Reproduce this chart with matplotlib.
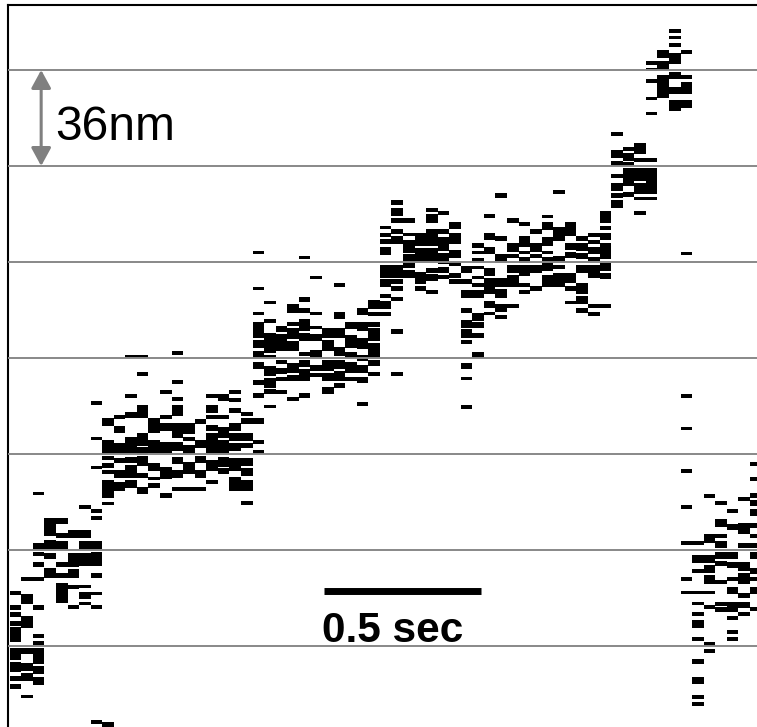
import matplotlib
matplotlib.use("Agg")
import matplotlib.pyplot as plt

# Kymograph of a stepping motor: for every video frame, the position ranges (nm)
# where the probe was detected. Each entry is (low, high) in nm.
frames_00_09 = [
    [(19.5, 20.6), (13.9, 15.4), (11.3, 12.8), (7.9, 9.4), (1.9, 7.1), (-4.9, -0.8), (-9.4, -6.0), (-12.8, -11.3), (-15.8, -14.3)],
    [(24.8, 25.9), (16.1, 19.5), (7.1, 11.3), (-2.6, -0.8), (-9.0, -6.4), (-12.8, -10.1), (-19.1, -18.4)],
    [(57.0, 57.8), (36.8, 38.6), (34.1, 35.3), (30.0, 31.5), (24.8, 25.9), (13.9, 15.4), (3.4, 4.5), (0.8, 1.9), (-6.4, -0.8), (-10.1, -7.5), (-14.3, -11.6)],
    [(41.6, 48.0), (36.8, 39.8), (33.0, 34.9), (25.9, 29.3)],
    [(46.1, 48.0), (40.9, 42.4), (36.8, 39.4), (30.0, 31.5), (25.9, 27.4), (16.5, 23.6)],
    [(40.9, 43.5), (30.0, 34.9), (25.9, 28.9), (21.8, 22.9), (14.3, 15.4)],
    [(51.8, 52.9), (40.9, 43.5), (36.8, 39.4), (30.4, 34.9), (22.1, 22.9), (18.0, 20.3), (15.8, 16.5)],
    [(90.8, 91.9), (77.6, 78.4), (66.8, 67.5), (50.3, 51.4), (47.6, 48.8), (36.8, 39.4), (30.4, 35.3), (25.9, 27.4), (19.5, 20.3), (14.3, 15.4), (-28.9, -27.8)],
    [(82.9, 85.5), (72.4, 77.3), (70.1, 71.3), (67.1, 68.6), (64.9, 66.0), (55.9, 62.3), (53.3, 54.0), (-30.4, -28.5)],
    [(85.5, 86.6), (80.3, 82.5), (72.4, 76.1), (69.0, 70.5), (63.4, 66.0), (58.5, 61.5)],
]

frames_10_19 = [
    [(108.4, 109.1), (93.4, 94.5), (85.9, 87.8), (72.4, 78.4), (69.0, 70.9), (63.4, 67.9), (59.6, 62.3)],
    [(108.4, 109.1), (101.6, 102.8), (85.9, 90.4), (75.4, 79.9), (72.0, 74.6), (67.9, 71.3), (63.4, 64.9), (57.4, 59.6)],
    [(80.3, 85.5), (72.8, 77.3), (66.0, 68.6), (62.6, 63.4), (59.6, 61.1)],
    [(94.9, 96.0), (85.5, 86.6), (81.0, 83.6), (72.8, 76.5), (63.0, 67.1), (55.9, 57.4)],
    [(109.5, 110.6), (98.6, 99.8), (92.3, 93.4), (86.6, 90.4), (78.4, 83.6), (73.5, 76.5), (68.6, 70.9), (63.4, 66.0), (58.5, 59.6)],
    [(79.9, 83.6), (77.3, 78.4), (72.4, 75.4), (64.9, 69.0), (58.5, 59.6)],
    [(83.6, 85.1), (74.6, 77.3), (69.0, 71.3), (63.4, 66.0), (58.5, 59.6)],
    [(93.4, 94.5), (87.8, 90.4), (85.5, 86.6), (81.0, 82.9), (72.8, 79.9), (66.0, 69.8), (61.1, 62.3)],
    [(92.3, 94.5), (85.5, 86.6), (78.4, 82.1), (72.8, 77.3), (67.5, 70.9), (64.9, 66.8)],
    [(94.9, 96.0), (91.9, 93.0), (87.8, 89.3), (81.0, 83.6), (77.3, 79.9), (73.5, 76.1), (66.0, 70.5), (58.5, 63.4)],
]

frames_20_29 = [
    [(86.6, 87.8), (83.6, 85.5), (77.3, 79.9), (74.6, 76.1), (67.9, 70.5), (64.1, 66.8), (58.5, 62.3), (53.3, 54.4)],
    [(147.4, 148.1), (133.9, 134.6), (124.5, 125.3), (115.9, 121.5), (112.1, 114.8), (108.4, 110.6), (104.3, 106.5), (98.3, 99.8), (93.4, 94.9), (83.6, 85.5), (76.1, 77.3), (72.4, 73.5)],
    [(128.6, 129.4), (121.5, 122.6), (110.3, 117.4), (108.0, 109.1), (101.6, 105.0), (97.1, 100.5), (94.9, 96.4), (89.6, 90.4)],
    [(118.1, 120.0), (111.0, 117.0), (106.1, 107.3), (102.4, 104.3), (99.8, 100.9), (94.9, 96.0)],
    [(125.3, 128.3), (120.4, 121.5), (115.5, 119.3), (111.0, 114.4), (102.8, 106.1), (99.8, 101.6), (92.3, 93.4)],
    [(145.5, 146.3), (129.4, 130.9), (125.3, 126.8), (118.5, 122.6), (114.8, 117.4), (109.1, 110.3), (105.0, 107.3), (99.8, 103.9), (93.4, 94.9)],
    [(138.0, 138.8), (124.5, 125.3), (119.3, 120.0), (114.8, 117.0), (108.4, 111.0), (103.5, 105.4), (101.3, 102.4)],
    [(115.9, 119.3), (111.0, 114.8), (103.5, 107.3), (99.8, 102.4), (94.9, 97.1)],
    [(135.0, 136.1), (123.0, 125.3), (115.9, 119.3), (109.1, 112.1), (104.3, 107.3), (99.8, 103.1), (97.1, 98.6)],
    [(119.3, 121.5), (112.1, 116.6), (108.4, 110.3), (102.8, 106.5), (99.8, 100.9)],
]

frames_30_39 = [
    [(124.5, 126.8), (118.5, 121.5), (111.8, 115.5), (107.3, 109.1), (102.8, 105.4), (99.0, 100.9), (90.4, 91.5)],
    [(126.8, 129.8), (124.1, 125.3), (120.0, 121.5), (114.8, 119.3), (108.4, 113.6), (105.4, 107.3), (101.6, 102.8)],
    [(156.8, 157.5), (153.8, 154.9), (151.1, 152.6), (147.0, 149.6), (138.4, 142.9), (135.0, 137.6), (130.9, 132.0), (126.8, 129.4), (124.1, 125.3)],
    [(165.8, 167.3), (161.6, 164.3), (159.0, 160.5), (154.9, 156.4), (151.1, 153.8), (138.4, 142.9), (136.1, 137.6), (133.5, 135.0), (129.8, 130.9), (117.4, 118.9), (101.6, 102.8)],
    [(159.0, 160.5), (154.1, 154.9), (147.8, 152.3), (142.1, 147.0), (138.4, 141.0)],
    [(150.4, 154.9), (144.0, 149.3), (136.1, 140.3), (133.5, 135.0)],
    [(163.1, 164.3), (159.0, 162.0), (150.4, 156.4), (144.0, 149.3), (140.3, 141.8), (137.3, 139.5), (132.4, 133.5)],
    [(162.0, 163.1), (154.9, 156.4), (148.5, 153.4), (143.6, 147.4), (140.3, 142.1), (138.0, 139.1)],
    [(156.8, 159.0), (151.1, 154.9), (145.9, 148.5), (142.9, 144.0), (138.4, 139.9), (136.1, 137.6)],
    [(140.3, 142.5), (136.1, 137.6), (130.9, 133.5), (125.3, 126.8), (119.6, 122.3), (115.9, 118.9), (113.6, 114.8), (104.3, 106.1), (100.1, 100.9), (89.3, 90.4)],
]

frames_40_49 = [
    [(149.6, 151.1), (147.4, 148.1), (144.0, 145.5), (141.8, 142.5), (138.0, 138.8), (135.0, 136.1), (130.9, 133.5), (122.3, 124.9), (119.6, 121.5), (115.9, 117.4), (108.4, 110.3)],
    [(160.9, 162.0), (152.6, 154.9), (147.4, 149.6), (139.1, 141.8), (132.4, 138.0), (127.1, 129.4), (124.5, 125.3)],
    [(168.4, 169.9), (152.3, 153.8), (144.0, 147.0), (135.0, 138.0), (130.9, 133.9), (125.6, 128.3), (123.0, 124.1)],
    [(159.0, 160.5), (148.1, 151.1), (145.9, 147.0), (140.3, 142.9), (136.5, 139.1), (135.0, 136.1), (127.1, 128.3)],
    [(157.9, 159.0), (150.0, 153.8), (147.4, 148.1), (144.0, 145.9), (139.1, 142.9), (135.0, 136.1), (132.4, 133.5)],
    [(154.9, 156.4), (148.1, 151.1), (145.9, 147.0), (140.3, 142.9), (133.5, 135.0)],
    [(160.9, 161.6), (156.4, 159.0), (150.4, 153.4), (147.4, 148.1), (141.0, 145.9), (135.0, 139.1)],
    [(169.9, 171.0), (152.3, 157.1), (144.0, 146.3), (141.8, 142.9), (135.0, 139.9)],
    [(154.1, 159.0), (148.9, 151.1), (145.9, 147.8), (136.5, 139.9), (133.5, 135.0), (128.6, 129.4)],
    [(152.3, 153.8), (148.5, 151.1), (145.5, 147.4), (140.3, 142.9), (132.4, 136.1), (128.6, 131.3), (125.3, 126.8)],
]

frames_50_59 = [
    [(153.8, 154.9), (151.1, 152.3), (147.4, 149.6), (144.8, 145.9), (140.3, 142.9), (138.4, 139.9), (127.1, 128.3), (124.1, 125.3)],
    [(159.0, 163.1), (156.4, 157.5), (152.6, 154.9), (145.5, 151.1), (141.0, 143.6), (138.0, 139.9), (127.1, 128.3)],
    [(191.6, 192.8), (183.4, 186.0), (180.4, 181.9), (175.9, 177.0), (171.0, 173.6), (168.4, 169.9), (164.6, 167.3)],
    [(186.0, 187.1), (182.3, 184.9), (180.4, 181.5), (172.9, 179.3), (168.8, 170.3)],
    [(184.9, 188.6), (181.9, 183.0), (174.8, 179.3), (169.9, 173.6), (167.6, 168.4), (162.0, 163.1)],
    [(218.3, 219.4), (216.0, 216.8), (211.5, 212.6), (205.1, 205.9), (199.5, 200.3), (181.9, 183.0), (169.9, 179.3), (167.6, 168.4)],
    [(220.9, 223.5), (216.4, 219.4), (205.9, 214.1)],
    [(230.3, 231.4), (228.0, 228.8), (225.0, 226.1), (218.6, 222.4), (213.0, 215.3), (207.4, 209.6), (201.0, 204.8)],
    [(222.4, 223.5), (213.0, 214.1), (207.4, 211.5), (202.1, 204.8), (147.0, 147.8), (93.4, 94.5), (81.4, 82.1), (65.3, 66.4), (51.8, 52.9), (38.3, 39.4), (24.8, 25.9), (19.9, 20.6)],
    [(38.3, 39.4), (31.5, 34.1), (27.8, 28.9), (19.9, 20.6), (15.8, 16.5), (11.6, 12.8), (7.1, 9.8), (2.3, 3.4), (-6.4, -4.9), (-13.9, -11.6), (-19.5, -18.4), (-22.1, -21.0)],
]

frames_60_64 = [
    [(55.9, 57.0), (39.0, 42.0), (31.5, 34.1), (27.8, 30.4), (23.6, 26.6), (19.9, 20.6), (14.3, 15.4), (0.4, 1.5), (-2.3, -1.1)],
    [(53.3, 54.4), (45.0, 47.6), (40.9, 42.0), (37.1, 39.4), (33.0, 35.3), (30.4, 31.9), (23.6, 24.8), (15.4, 16.5), (13.1, 14.6)],
    [(50.3, 51.4), (43.9, 45.8), (33.0, 35.3), (29.6, 31.5), (24.8, 25.9), (19.9, 22.1), (13.1, 16.5), (10.1, 11.3), (4.9, 6.0), (2.3, 3.4)],
    [(54.8, 55.9), (42.4, 46.1), (37.1, 38.6), (28.5, 31.5), (23.6, 27.4), (18.4, 19.9), (14.6, 16.5), (11.6, 12.8)],
    [(67.9, 69.0), (62.3, 63.4), (55.9, 57.4), (52.9, 54.8), (49.1, 51.4), (44.6, 46.1), (40.9, 42.0), (37.1, 38.6), (33.0, 35.3), (27.4, 29.3), (24.8, 25.9), (19.9, 22.1), (13.5, 14.6)],
]

frame_dt = 0.5 / 13.57          # seconds per video frame
pixel_row_nm = 0.375            # height of one detector row
step_size_nm = 36               # reference step spacing
grid_levels_nm = [0, 36, 72, 108, 144, 180, 216]
scale_bar_sec = 0.5
scale_bar_start = 1.0

all_frames = (frames_00_09 + frames_10_19 + frames_20_29 + frames_30_39
              + frames_40_49 + frames_50_59 + frames_60_64)

W, H = 757, 727
fig = plt.figure(figsize=(W / 100, H / 100), dpi=100)
ax = fig.add_axes([8.2 / W, 0, 1 - 8.2 / W, 1 - 5.3 / H])

xs, bottoms, heights = [], [], []
for i, runs in enumerate(all_frames):
    for lo, hi in runs:
        xs.append(i * frame_dt)
        # each run covers its last detector row as well
        bottoms.append(lo - pixel_row_nm)
        heights.append(hi - lo + pixel_row_nm)
ax.bar(xs, heights, width=frame_dt, bottom=bottoms, align="edge",
       color="black", linewidth=0, antialiased=False, zorder=2)

for g in grid_levels_nm:
    ax.axhline(g, color="#888888", lw=1.4, zorder=3)

# step-size marker
arrow_x = 2.72 * frame_dt
ax.annotate("", xy=(arrow_x, grid_levels_nm[6]), xytext=(arrow_x, grid_levels_nm[5]),
            arrowprops=dict(arrowstyle="<|-|>,head_length=1.1,head_width=0.6",
                            mutation_scale=10, color="#808080", lw=2.2,
                            shrinkA=0, shrinkB=0), zorder=4)
ax.text(3.93 * frame_dt, 189.8, f"{step_size_nm}nm", fontsize=34.5,
        family="Liberation Sans", ha="left", va="baseline", zorder=5)

# time scale bar
ax.plot([scale_bar_start, scale_bar_start + scale_bar_sec], [20.6, 20.6],
        color="black", lw=5, solid_capstyle="butt", zorder=5)
ax.text(scale_bar_start - 0.005, 1.5, f"{scale_bar_sec} sec", fontsize=30.5,
        fontweight="bold", family="Liberation Sans", ha="left", va="baseline",
        zorder=5)

ax.set_xlim(-0.13 * frame_dt, 64.61 * frame_dt)
ax.set_ylim(-30.375, 240.26)
ax.set_xticks([])
ax.set_yticks([])
for side in ("right", "bottom"):
    ax.spines[side].set_visible(False)
for side in ("left", "top"):
    ax.spines[side].set_linewidth(1.5)
    ax.spines[side].set_color("black")

fig.savefig("out.png", dpi=100)
